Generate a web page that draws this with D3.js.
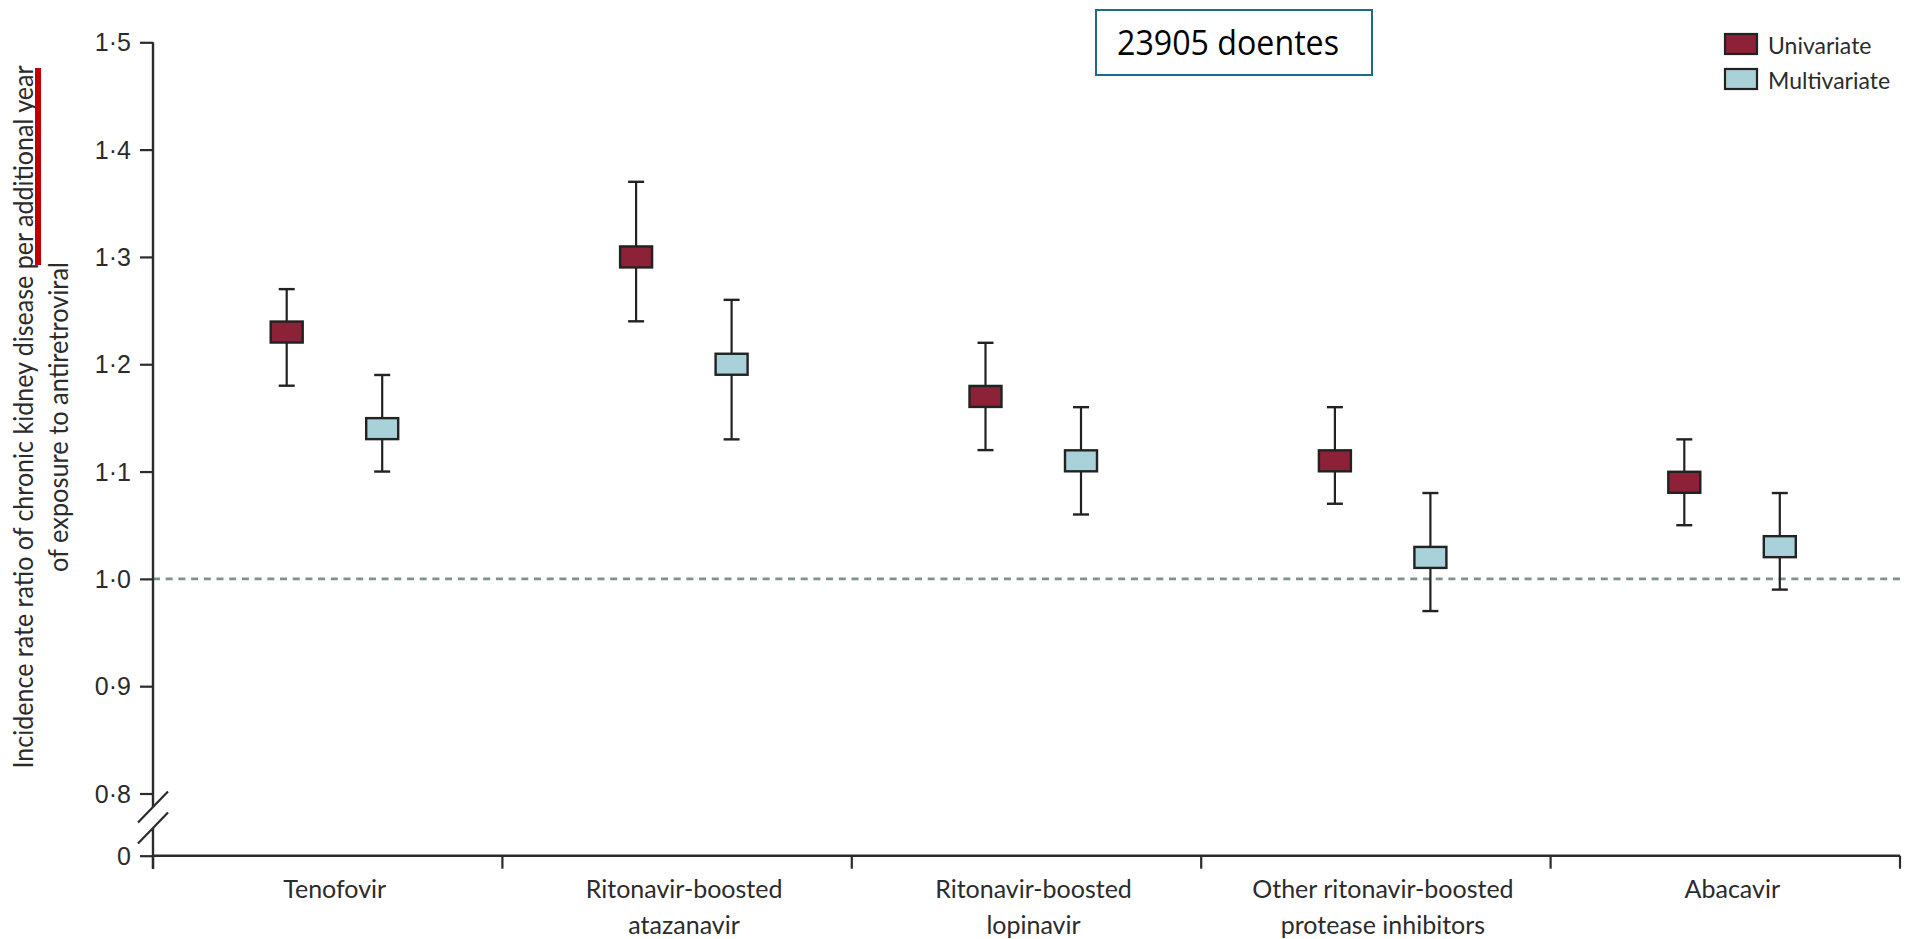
<!DOCTYPE html>
<html>
<head>
<meta charset="utf-8">
<script src="https://cdn.jsdelivr.net/npm/d3@7"></script>
<style>
  body { margin: 0; background: #fff; }
  svg { display: block; font-family: Lato, "Open Sans", sans-serif; }
  .axis text { fill: #2b2b2b; }
</style>
</head>
<body>
<div id="chart"></div>
<script>
const svgWidth = 1907;
const svgHeight = 939;

// drug categories (label lines)
const categories = ["Tenofovir", "Ritonavir-boosted atazanavir", "Ritonavir-boosted lopinavir",
                    "Other ritonavir-boosted protease inhibitors", "Abacavir"];
const categoryLines = [["Tenofovir"], ["Ritonavir-boosted", "atazanavir"], ["Ritonavir-boosted", "lopinavir"],
                       ["Other ritonavir-boosted", "protease inhibitors"], ["Abacavir"]];

// incidence rate ratios with 95% CI
const univariate     = [1.23, 1.30, 1.17, 1.11, 1.09];
const univariateLow  = [1.18, 1.24, 1.12, 1.07, 1.05];
const univariateHigh = [1.27, 1.37, 1.22, 1.16, 1.13];
const multivariate     = [1.14, 1.20, 1.11, 1.02, 1.03];
const multivariateLow  = [1.10, 1.13, 1.06, 0.97, 0.99];
const multivariateHigh = [1.19, 1.26, 1.16, 1.08, 1.08];

const seriesNames = ["Univariate", "Multivariate"];
const seriesColors = ["#8c2137", "#a8d1da"];
const yTicks = [0, 0.8, 0.9, 1.0, 1.1, 1.2, 1.3, 1.4, 1.5];

const svg = d3.select("#chart").append("svg")
    .attr("width", svgWidth)
    .attr("height", svgHeight);

// broken y axis: 0 -> 0.8 squeezed into a short stub
const yscale = d3.scaleLinear()
    .domain([0, 0.8, 1.5])
    .range([855.7, 793.5, 42.3]);

const xscale = d3.scaleBand()
    .domain(categories)
    .range([153, 1900]);

const offsets = {Univariate: -41, Multivariate: 54.5};

// build rows for drawing
const rows = [];
categories.forEach(function(c, i){
    rows.push({cat: c, series: "Univariate", v: univariate[i], lo: univariateLow[i], hi: univariateHigh[i]});
    rows.push({cat: c, series: "Multivariate", v: multivariate[i], lo: multivariateLow[i], hi: multivariateHigh[i]});
});
const color = d3.scaleOrdinal().domain(seriesNames).range(seriesColors);
function cx(d){ return xscale(d.cat) + xscale.bandwidth()/2 + offsets[d.series]; }

// reference line at 1.0
svg.append("line")
    .attr("x1", 153).attr("x2", 1900)
    .attr("y1", yscale(1)).attr("y2", yscale(1))
    .attr("stroke", "#7f9191")
    .attr("stroke-width", 2.6)
    .attr("stroke-dasharray", "7,5.7");

// y axis
const yaxis = d3.axisLeft(yscale)
    .tickValues(yTicks)
    .tickSize(13)
    .tickPadding(9)
    .tickFormat(function(d){ return d === 0 ? "0" : d3.format(".1f")(d).replace(".", "\u00b7"); });

const gy = svg.append("g")
    .attr("class", "axis")
    .attr("transform", "translate(153,0)")
    .call(yaxis);
gy.select(".domain").remove();
gy.selectAll(".tick line").attr("stroke", "#2b2b2b").attr("stroke-width", 2.2);
gy.selectAll(".tick text").attr("font-size", 25).attr("dy", "0.34em");

// axis line with a gap at the break
svg.append("line").attr("x1", 153).attr("x2", 153).attr("y1", 42.3).attr("y2", 807)
    .attr("stroke", "#2b2b2b").attr("stroke-width", 2.4);
svg.append("line").attr("x1", 153).attr("x2", 153).attr("y1", 828).attr("y2", 869)
    .attr("stroke", "#2b2b2b").attr("stroke-width", 2.4);
// break slashes
[807, 828].forEach(function(yb){
    svg.append("line")
        .attr("x1", 138).attr("y1", yb + 15.5)
        .attr("x2", 168).attr("y2", yb - 15.5)
        .attr("stroke", "#2b2b2b").attr("stroke-width", 2.2);
});

// x axis: ticks at the category boundaries
const boundaries = categories.map(function(c){ return xscale(c); }).concat([xscale.range()[1]]);
svg.append("line").attr("x1", 153).attr("x2", 1900)
    .attr("y1", yscale(0)).attr("y2", yscale(0))
    .attr("stroke", "#2b2b2b").attr("stroke-width", 2.4);
svg.selectAll(".xtick")
    .data(boundaries)
    .enter().append("line")
    .attr("class", "xtick")
    .attr("x1", function(d){ return d; }).attr("x2", function(d){ return d; })
    .attr("y1", yscale(0)).attr("y2", yscale(0) + 13)
    .attr("stroke", "#2b2b2b").attr("stroke-width", 2.2);

// category labels
const xl = svg.selectAll(".xlabel")
    .data(categories)
    .enter().append("text")
    .attr("class", "xlabel")
    .attr("text-anchor", "middle")
    .attr("font-size", 25)
    .attr("fill", "#2b2b2b")
    .attr("transform", function(c){ return "translate(" + (xscale(c) + xscale.bandwidth()/2 + 7) + ",898)"; });
xl.each(function(c, i){
    d3.select(this).selectAll("tspan")
        .data(categoryLines[i])
        .enter().append("tspan")
        .attr("x", 0)
        .attr("y", function(d, j){ return j * 36; })
        .text(function(d){ return d; });
});

// y axis title (two lines, condensed)
svg.append("text")
    .attr("transform", "translate(33,417)rotate(-90)")
    .attr("text-anchor", "middle")
    .attr("font-size", 27)
    .attr("fill", "#2b2b2b")
    .attr("textLength", 703)
    .attr("lengthAdjust", "spacingAndGlyphs")
    .text("Incidence rate ratio of chronic kidney disease per additional year");
svg.append("text")
    .attr("transform", "translate(68,417)rotate(-90)")
    .attr("text-anchor", "middle")
    .attr("font-size", 27)
    .attr("fill", "#2b2b2b")
    .attr("textLength", 310)
    .attr("lengthAdjust", "spacingAndGlyphs")
    .text("of exposure to antiretroviral");

// red marker bar next to the title
svg.append("rect")
    .attr("x", 35).attr("y", 68)
    .attr("width", 6).attr("height", 197)
    .attr("fill", "#c00000");

// error bars
const capHalf = 8;
const boxW = 32, boxH = 21;
const g = svg.selectAll(".est")
    .data(rows)
    .enter().append("g")
    .attr("class", "est");

g.append("line")
    .attr("x1", cx).attr("x2", cx)
    .attr("y1", function(d){ return yscale(d.hi); })
    .attr("y2", function(d){ return yscale(d.lo); })
    .attr("stroke", "#222").attr("stroke-width", 2.2);
g.append("line")
    .attr("x1", function(d){ return cx(d) - capHalf; })
    .attr("x2", function(d){ return cx(d) + capHalf; })
    .attr("y1", function(d){ return yscale(d.hi); })
    .attr("y2", function(d){ return yscale(d.hi); })
    .attr("stroke", "#222").attr("stroke-width", 2.4);
g.append("line")
    .attr("x1", function(d){ return cx(d) - capHalf; })
    .attr("x2", function(d){ return cx(d) + capHalf; })
    .attr("y1", function(d){ return yscale(d.lo); })
    .attr("y2", function(d){ return yscale(d.lo); })
    .attr("stroke", "#222").attr("stroke-width", 2.4);
g.append("rect")
    .attr("x", function(d){ return cx(d) - boxW/2; })
    .attr("y", function(d){ return yscale(d.v) - boxH/2; })
    .attr("width", boxW).attr("height", boxH)
    .attr("fill", function(d){ return color(d.series); })
    .attr("stroke", "#222").attr("stroke-width", 2.4);

// legend
const legend = svg.selectAll(".legend")
    .data(seriesNames)
    .enter().append("g")
    .attr("class", "legend")
    .attr("transform", function(d, i){ return "translate(1725," + (34 + i*35) + ")"; });
legend.append("rect")
    .attr("width", 32).attr("height", 20)
    .attr("fill", function(d){ return color(d); })
    .attr("stroke", "#222").attr("stroke-width", 2.2);
legend.append("text")
    .attr("x", 43).attr("y", 20)
    .attr("font-size", 23)
    .attr("fill", "#2b2b2b")
    .text(function(d){ return d; });

// patient count box
svg.append("rect")
    .attr("x", 1096).attr("y", 10)
    .attr("width", 276).attr("height", 65)
    .attr("fill", "#fff")
    .attr("stroke", "#1e6a88").attr("stroke-width", 2);
svg.append("text")
    .attr("x", 1117).attr("y", 55)
    .attr("font-family", "'Open Sans', sans-serif")
    .attr("font-size", 34)
    .attr("fill", "#000")
    .attr("textLength", 222)
    .attr("lengthAdjust", "spacingAndGlyphs")
    .text("23905 doentes");
</script>
</body>
</html>
